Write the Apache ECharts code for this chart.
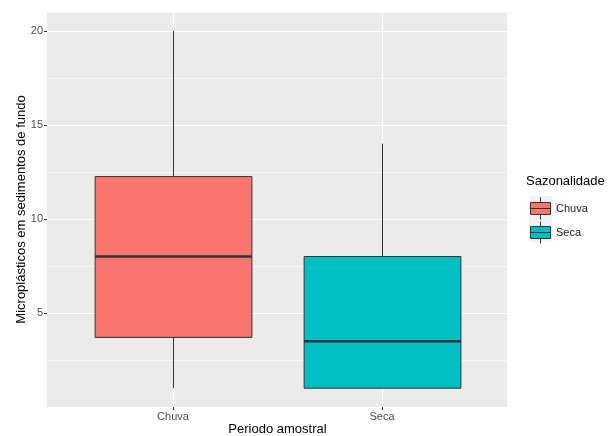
<!DOCTYPE html>
<html>
<head>
<meta charset="utf-8">
<script src="https://cdn.jsdelivr.net/npm/echarts@6/dist/echarts.min.js"></script>
<style>html,body{margin:0;padding:0;background:#fff}#c{width:608px;height:436px}</style>
</head>
<body>
<div id="c"></div>
<script>
// Data
const categories = ['Chuva', 'Seca'];
const whiskerLow = [1, 1];
const q1 = [3.7, 1];
const median = [8, 3.5];
const q3 = [12.25, 8];
const whiskerHigh = [20, 14];
const yTickLabels = [5, 10, 15, 20];
const fillColors = ['#F8766D', '#00BFC4'];

const FONT = 'Liberation Sans, Arial, sans-serif';

function renderBox(params, api) {
  const x = api.value(0);
  const lo = api.coord([x, api.value(1)]);
  const b1 = api.coord([x, api.value(2)]);
  const md = api.coord([x, api.value(3)]);
  const b3 = api.coord([x, api.value(4)]);
  const hi = api.coord([x, api.value(5)]);
  const w = api.size([1, 0])[0] * 0.75;
  const cx = Math.round(md[0]) + 0.5;
  const left = cx - w / 2;
  const fill = api.visual('color');
  return {
    type: 'group',
    children: [
      { type: 'line', shape: { x1: cx, y1: hi[1], x2: cx, y2: b3[1] }, style: { stroke: '#333', lineWidth: 1 } },
      { type: 'line', shape: { x1: cx, y1: b1[1], x2: cx, y2: lo[1] }, style: { stroke: '#333', lineWidth: 1 } },
      { type: 'rect', shape: { x: left, y: b3[1], width: w, height: b1[1] - b3[1] }, style: { fill: fill, stroke: '#333', lineWidth: 1 } },
      { type: 'line', shape: { x1: left, y1: md[1], x2: left + w, y2: md[1] }, style: { stroke: '#333', lineWidth: 2.5 } }
    ]
  };
}

const series = categories.map((c, i) => ({
  name: c,
  type: 'custom',
  xAxisIndex: 1,
  yAxisIndex: 2,
  renderItem: renderBox,
  itemStyle: { color: fillColors[i], borderColor: '#333', borderWidth: 1 },
  encode: { x: 0, y: [1, 2, 3, 4, 5] },
  data: [[i, whiskerLow[i], q1[i], median[i], q3[i], whiskerHigh[i]]],
  z: 5
}));

const chart = echarts.init(document.getElementById('c'), null, { renderer: 'canvas' });
chart.setOption({
  animation: false,
  backgroundColor: '#fff',
  title: {
    text: 'Sazonalidade', left: 526, top: 175, padding: 0,
    textStyle: { fontFamily: FONT, fontSize: 13, fontWeight: 'normal', color: '#000' }
  },
  graphic: [
    { type: 'rect', shape: { x: 529, y: 196, width: 23, height: 23 }, style: { fill: '#F2F2F2' }, z: 0 },
    { type: 'rect', shape: { x: 529, y: 219, width: 23, height: 23 }, style: { fill: '#F2F2F2' }, z: 0 }
  ],
  legend: {
    orient: 'vertical', left: 530, top: 197, padding: 0,
    itemWidth: 21, itemHeight: 22, itemGap: 1,
    icon: 'path://M11,0 L11,5 M1,5 L21,5 L21,17 L1,17 Z M1,11 L21,11 M11,17 L11,22',
    itemStyle: { borderColor: '#333', borderWidth: 1 },
    textStyle: { fontFamily: FONT, fontSize: 11, color: '#1a1a1a' },
    data: categories
  },
  grid: [
    { left: 47, right: 101, top: 12, bottom: 29, show: true, backgroundColor: '#EBEBEB', borderWidth: 0, containLabel: false, outerBoundsMode: 'none' },
    { left: 68.5, right: 121.5, top: 12, bottom: 29, containLabel: false, outerBoundsMode: 'none' }
  ],
  xAxis: [
    { gridIndex: 0, type: 'category', data: categories, show: false },
    {
      gridIndex: 1, type: 'category', data: categories,
      name: 'Periodo amostral', nameLocation: 'middle', nameGap: 16, nameMoveOverlap: false,
      nameTextStyle: { fontFamily: FONT, fontSize: 13, color: '#000' },
      axisLine: { show: false },
      axisTick: { show: true, alignWithLabel: true, length: 3, lineStyle: { color: '#333' } },
      axisLabel: { margin: 4, fontFamily: FONT, fontSize: 11, color: '#4D4D4D' },
      splitLine: { show: true, alignWithLabel: true, lineStyle: { color: '#fff', width: 1.2 } }
    }
  ],
  yAxis: [
    {
      gridIndex: 0, type: 'value', min: 0, max: 21, interval: 5,
      name: 'Microplásticos em sedimentos de fundo', nameLocation: 'middle', nameGap: 19, nameMoveOverlap: false,
      nameTextStyle: { fontFamily: FONT, fontSize: 13, color: '#000' },
      axisLine: { show: false },
      axisTick: { show: true, length: 3, lineStyle: { color: '#333' }, customValues: yTickLabels },
      axisLabel: {
        margin: 4, fontFamily: FONT, fontSize: 11, color: '#4D4D4D', customValues: yTickLabels,
        formatter: v => (yTickLabels.indexOf(v) >= 0 ? String(v) : '')
      },
      splitLine: { show: true, lineStyle: { color: '#fff', width: 1.2 } },
      z: 1
    },
    {
      gridIndex: 0, type: 'value', min: 0, max: 21, interval: 2.5,
      axisLine: { show: false }, axisTick: { show: false }, axisLabel: { show: false },
      splitLine: { show: true, lineStyle: { color: '#fff', width: 0.6 } },
      z: 0
    },
    { gridIndex: 1, type: 'value', min: 0, max: 21, show: false, splitLine: { show: false } }
  ],
  series: series
});
</script>
</body>
</html>
